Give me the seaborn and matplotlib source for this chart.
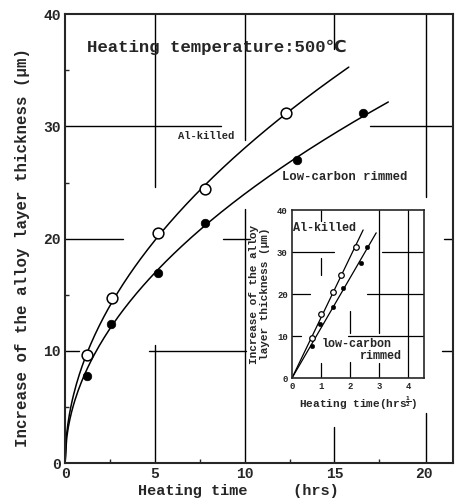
import numpy as np
import pandas as pd
import seaborn as sns
import matplotlib.pyplot as plt

# values
t_killed = [1.23, 2.63, 5.2, 7.8, 12.3]
d_killed = [9.6, 14.7, 20.5, 24.4, 31.2]
t_rimmed = [1.23, 2.58, 5.15, 7.8, 12.9, 16.6]
d_rimmed = [7.8, 12.4, 16.9, 21.4, 27.0, 31.2]

# inset (plotted against the root of time)
s_killed = [0.69, 1.0, 1.41, 1.69, 2.2]
i_killed = [9.5, 15.2, 20.5, 24.5, 31.2]
s_rimmed = [0.69, 0.97, 1.41, 1.76, 2.38, 2.59]
i_rimmed = [7.6, 12.8, 16.9, 21.4, 27.4, 31.2]

main_xticks = [0, 5, 10, 15, 20]
main_yticks = [0, 10, 20, 30, 40]
inset_xticks = [0, 1, 2, 3, 4]
inset_yticks = [0, 10, 20, 30, 40]

sns.set_style("ticks")
fonts = ["Liberation Mono", "DejaVu Sans Mono", "DejaVu Sans"]
plt.rcParams["font.family"] = fonts
plt.rcParams["font.weight"] = "bold"

fig = plt.figure(figsize=(4.65, 5.04), dpi=100)
ax = fig.add_axes([0.140, 0.081, 0.834, 0.891])


def parabolic_fit(t, d):
    # d = k * sqrt(t), least squares through the origin
    t = np.asarray(t)
    d = np.asarray(d)
    return (d * np.sqrt(t)).sum() / t.sum()


def linear_fit(s, d):
    s = np.asarray(s)
    d = np.asarray(d)
    return (s * d).sum() / (s * s).sum()


# broken grid segments as in the scan
hsegs = [(30, 0, 8.7), (30, 17.0, 21.6), (20, 0, 3.2), (20, 8.8, 10.3),
         (20, 21.1, 21.6), (10, 0, 0.8), (10, 4.65, 10.1), (10, 21.0, 21.6)]
vsegs = [(5, 0, 10.5), (5, 24.6, 40), (10, 0, 22.6), (10, 28.8, 40),
         (15, 0, 3.2), (15, 36.9, 40), (20.1, 0, 4.5), (20.1, 23.7, 40)]
for y, x0, x1 in hsegs:
    ax.plot([x0, x1], [y, y], color="black", lw=1.0, zorder=1)
for x, y0, y1 in vsegs:
    ax.plot([x, x], [y0, y1], color="black", lw=1.0, zorder=1)

k1 = parabolic_fit(t_killed, d_killed)
k2 = parabolic_fit(t_rimmed, d_rimmed)
tt1 = np.linspace(0, 15.8, 200)
tt2 = np.linspace(0, 18.0, 200)
sns.lineplot(x=tt1, y=k1 * np.sqrt(tt1), ax=ax, color="black", lw=1.1, zorder=2)
sns.lineplot(x=tt2, y=k2 * np.sqrt(tt2), ax=ax, color="black", lw=1.1, zorder=2)

df_k = pd.DataFrame({"t": t_killed, "d": d_killed})
df_r = pd.DataFrame({"t": t_rimmed, "d": d_rimmed})
sns.scatterplot(data=df_k, x="t", y="d", ax=ax, s=60, facecolor="white",
                edgecolor="black", linewidth=1.1, zorder=3)
sns.scatterplot(data=df_r, x="t", y="d", ax=ax, s=38, color="black",
                edgecolor="black", zorder=3)

ax.set_xlim(0, 21.6)
ax.set_ylim(0, 40)
ax.set_xticks(main_xticks)
ax.set_yticks(main_yticks)
ax.set_xticks([2.5, 7.5, 12.5, 17.5], minor=True)
ax.set_yticks([5, 15, 25, 35], minor=True)
ax.tick_params(which="both", direction="in", width=1.0, labelsize=10.5)
ax.tick_params(which="major", length=0)
ax.tick_params(axis="x", which="major", pad=3)
ax.tick_params(axis="y", which="major", pad=3)
ax.tick_params(which="minor", length=3)
for sp in ax.spines.values():
    sp.set_visible(True)
    sp.set_linewidth(1.5)
ax.set_xlabel("Heating time     (hrs)", fontsize=11, fontweight="bold")
ax.xaxis.set_label_coords(0.448, -0.046)
ax.set_ylabel("Increase of the alloy layer thickness (μm)", fontsize=11.3,
              fontweight="bold")
ax.yaxis.set_label_coords(-0.09, 0.481)

ax.text(1.2, 37.0, "Heating temperature:500℃", fontsize=12.5, fontweight="bold",
        va="center", ha="left", family=fonts)
ax.text(6.3, 29.1, "Al-killed", fontsize=7.6, fontweight="bold", va="center")
ax.text(12.1, 25.5, "Low-carbon rimmed", fontsize=8.8, fontweight="bold", va="center")

# inset
ins = fig.add_axes([0.628, 0.250, 0.284, 0.333])
ins.set_facecolor("white")
ihsegs = [(30, 0, 1.45), (30, 3.1, 4.55), (20, 0, 0.62), (20, 2.6, 4.55),
          (10, 0, 0.3), (10, 1.93, 4.55)]
ivsegs = [(1, 24.5, 28.5), (1, 37.5, 40), (1, 0, 3.5), (2, 10.7, 16),
          (2, 0, 3.8), (3, 10.7, 40), (3, 0, 3.5), (4, 0, 40)]
for y, x0, x1 in ihsegs:
    ins.plot([x0, x1], [y, y], color="black", lw=0.9, zorder=1)
for x, y0, y1 in ivsegs:
    ins.plot([x, x], [y0, y1], color="black", lw=0.9, zorder=1)

m1 = linear_fit(s_killed, i_killed)
m2 = linear_fit(s_rimmed, i_rimmed)
ss1 = np.array([0, 2.45])
ss2 = np.array([0, 2.9])
sns.lineplot(x=ss1, y=m1 * ss1, ax=ins, color="black", lw=0.9, zorder=2)
sns.lineplot(x=ss2, y=m2 * ss2, ax=ins, color="black", lw=0.9, zorder=2)
sns.scatterplot(x=s_killed, y=i_killed, ax=ins, s=16, facecolor="white",
                edgecolor="black", linewidth=0.9, zorder=3)
sns.scatterplot(x=s_rimmed, y=i_rimmed, ax=ins, s=11, color="black",
                edgecolor="black", zorder=3)

ins.set_xlim(0, 4.55)
ins.set_ylim(0, 40)
ins.set_xticks(inset_xticks)
ins.set_yticks(inset_yticks)
ins.tick_params(direction="in", length=0, labelsize=6.5, pad=3)
for sp in ins.spines.values():
    sp.set_visible(True)
    sp.set_linewidth(1.2)
ins.set_xlabel("Heating time(hrs$^{\\frac{1}{2}}$)", fontsize=8, fontweight="bold",
               labelpad=2)
ins.set_ylabel("Increase of the alloy\nlayer thickness (μm)", fontsize=8,
               fontweight="bold", labelpad=5)
ins.text(0.05, 35.7, "Al-killed", fontsize=8.5, fontweight="bold", va="center")
ins.text(1.03, 8.1, "low-carbon", fontsize=8.5, fontweight="bold", va="center")
ins.text(3.78, 5.2, "rimmed", fontsize=8.5, fontweight="bold", va="center", ha="right")

fig.savefig("out.png", dpi=100)
